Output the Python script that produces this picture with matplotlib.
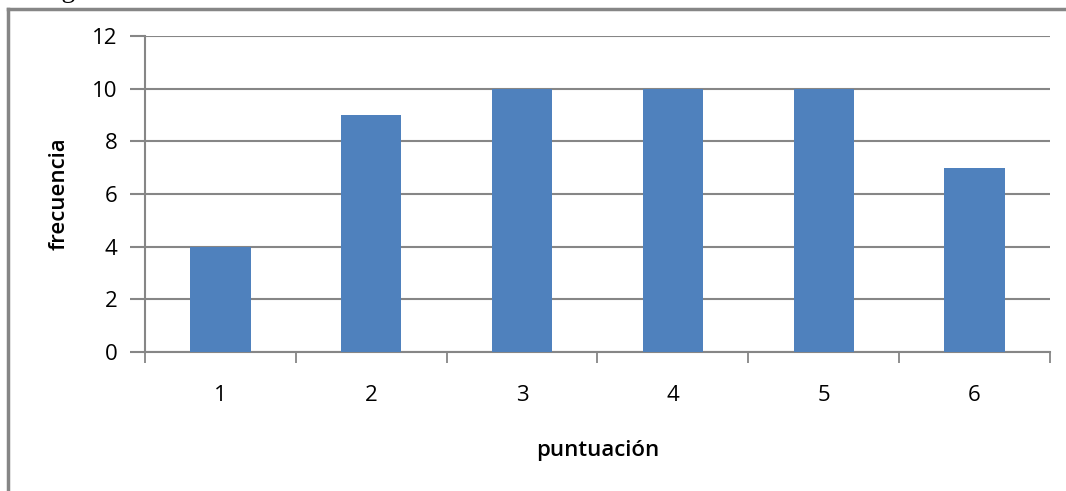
"""Frecuencia por puntuación, bar chart in spreadsheet style."""
import matplotlib; matplotlib.use('Agg'); import matplotlib.pyplot as plt
from matplotlib.lines import Line2D
import numpy as np

puntuacion = ['1', '2', '3', '4', '5', '6']
frecuencia = [4, 9, 10, 10, 10, 7]
yticks = [0, 2, 4, 6, 8, 10, 12]

W, H = 1066, 491
fig = plt.figure(figsize=(W / 100, H / 100), dpi=100)
ax = fig.add_axes([145 / W, 1 - 352 / H, (1050 - 145) / W, (352 - 36) / H])

grid = '#868686'
x = np.arange(len(puntuacion))
ax.bar(x, frecuencia, width=0.4, color='#4F81BD', zorder=3)
ax.set_xlim(-0.5, len(puntuacion) - 0.5); ax.set_ylim(0, 12)
ax.set_yticks(yticks)
ax.set_yticklabels([str(v) for v in yticks], fontsize=16, family='Open Sans')
ax.set_xticks(x)
ax.set_xticklabels(puntuacion, fontsize=16, family='Open Sans')
ax.tick_params(axis='y', length=11, width=1.5, color=grid, pad=9)
ax.tick_params(axis='x', length=0, pad=24)
# category boundary ticks
ax.set_xticks(np.arange(-0.5, len(puntuacion)), minor=True)
ax.tick_params(axis='x', which='minor', length=8, width=1.3, color=grid)
ax.grid(axis='y', color=grid, lw=1.5, zorder=0)
for s in ('top', 'right'): ax.spines[s].set_visible(False)
for s in ('left', 'bottom'): ax.spines[s].set_color(grid); ax.spines[s].set_linewidth(1.5)
ax.set_xlabel('puntuación', fontsize=16, family='Open Sans', fontweight='semibold', labelpad=24)
ax.set_ylabel('frecuencia', fontsize=16, family='Open Sans', fontweight='semibold', labelpad=16)

# outer frame of the embedded chart (only left and top edges visible)
fig.add_artist(Line2D([7.5 / W, 7.5 / W], [0, 1 - 8.5 / H], color=grid, lw=2.5))
fig.add_artist(Line2D([7.5 / W, 1], [1 - 8.5 / H, 1 - 8.5 / H], color=grid, lw=2.5))
# caption above, cut off by the page crop
fig.text(38 / W, 1 + 3 / H, 'Fig', fontsize=20, family='Liberation Serif', va='baseline')

fig.savefig('out.png', dpi=100)
